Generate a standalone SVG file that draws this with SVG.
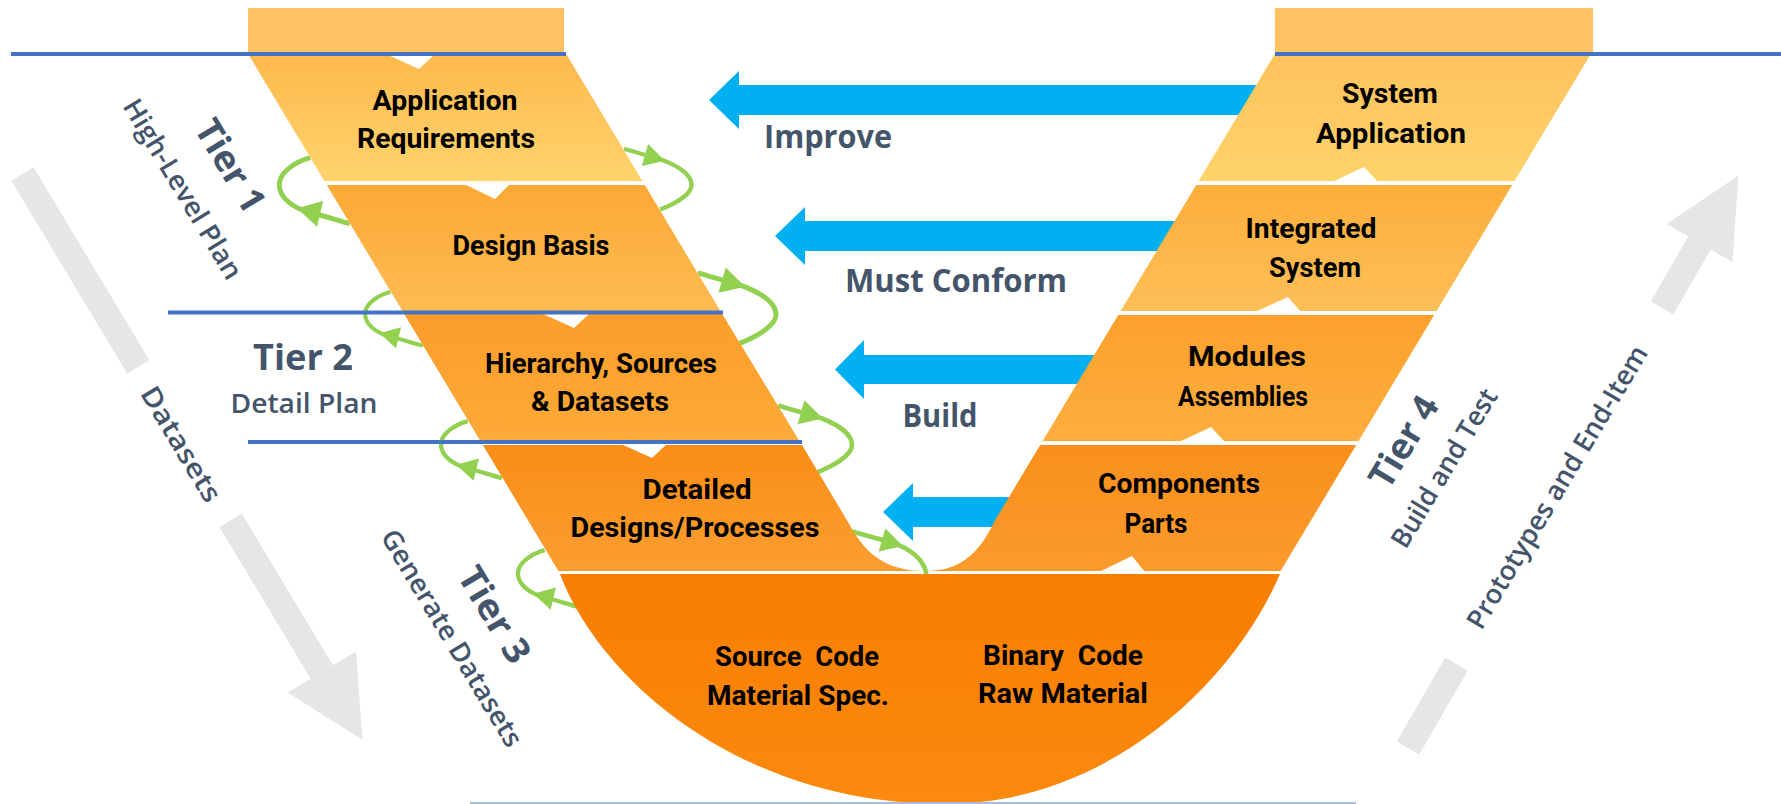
<svg xmlns="http://www.w3.org/2000/svg" width="1781" height="804" viewBox="0 0 1781 804">
<defs>
<style>
.box{font-family:Roboto,"Liberation Sans",sans-serif;font-weight:700;font-size:28px;fill:#000;text-anchor:middle}
.lbl{font-family:"Open Sans","Noto Sans",sans-serif;font-weight:600;fill:#44546A;text-anchor:middle}
.tier{font-size:36px;font-weight:700}
.sub{font-size:27px}
.act{font-size:32px;font-weight:700}
.hl{stroke:#4472C4;stroke-width:4;fill:none}
.loop{fill:none;stroke:#92D050;stroke-width:4.5}
.head{fill:#92D050}
.blue{fill:#00B0F0}
.grey{fill:#E7E6E6}
.notch{fill:#FFFFFF}
</style>
<linearGradient id="g1" x1="0" y1="0" x2="0" y2="1"><stop offset="0" stop-color="#FDB84C"/><stop offset="1" stop-color="#FFD46C"/></linearGradient>
<linearGradient id="g2" x1="0" y1="0" x2="0" y2="1"><stop offset="0" stop-color="#FCA935"/><stop offset="1" stop-color="#FDBC53"/></linearGradient>
<linearGradient id="g3" x1="0" y1="0" x2="0" y2="1"><stop offset="0" stop-color="#FC9D2A"/><stop offset="1" stop-color="#FDAA38"/></linearGradient>
<linearGradient id="g4" x1="0" y1="0" x2="0" y2="1"><stop offset="0" stop-color="#F98D16"/><stop offset="1" stop-color="#FB9E30"/></linearGradient>
<linearGradient id="g5" x1="0" y1="0" x2="0" y2="1"><stop offset="0" stop-color="#F77E00"/><stop offset="1" stop-color="#FB8A0F"/></linearGradient>
<linearGradient id="r1" x1="0" y1="0" x2="0" y2="1"><stop offset="0" stop-color="#FEC25C"/><stop offset="1" stop-color="#FFD36B"/></linearGradient>
<linearGradient id="r2" x1="0" y1="0" x2="0" y2="1"><stop offset="0" stop-color="#FCAE3B"/><stop offset="1" stop-color="#FDBF58"/></linearGradient>
<linearGradient id="r3" x1="0" y1="0" x2="0" y2="1"><stop offset="0" stop-color="#FCA02C"/><stop offset="1" stop-color="#FDAE3F"/></linearGradient>
<linearGradient id="r4" x1="0" y1="0" x2="0" y2="1"><stop offset="0" stop-color="#F98F1C"/><stop offset="1" stop-color="#FA9B2C"/></linearGradient>
<g id="loopL">
<path class="loop" d="M22,37 C8,33 -8,28 -20,25 C-36,19 -43,9 -42,0 C-41,-10 -28,-19 -14,-23"/>
<polygon class="head" points="-26,23 -2.2,16.3 -7.8,39.7"/>
</g>
<g id="loopR">
<path class="loop" d="M-21,-36 C-8,-32 8,-28 20,-24 C38,-17 50,-8 50,2 C50,12 32,22 17,28"/>
<polygon class="head" points="22,-23.5 -2.3,-18 4.3,-41"/>
</g>
</defs>
<rect width="1781" height="804" fill="#FFFFFF"/>

<g id="progress-arrows">
<g transform="translate(22.5,174) rotate(59)">
<rect class="grey" x="0" y="-13" width="225" height="26"/>
<polygon class="grey" points="404,-13 581,-13 581,-40 660,0 581,40 581,13 404,13"/>
</g>
<g transform="translate(1408,748) rotate(-60)">
<rect class="grey" x="0" y="-13" width="97" height="26"/>
<polygon class="grey" points="508,-13 583,-13 583,-38 661,0 583,38 583,13 508,13"/>
</g>
</g>

<g id="connectors">
<polygon class="blue" points="709,100 739,71 739,85 1275,85 1275,115 739,115 739,129"/>
<polygon class="blue" points="775,236 805,207 805,221 1195,221 1195,251 805,251 805,265"/>
<polygon class="blue" points="835,369.5 864,340 864,355 1110,355 1110,384 864,384 864,399"/>
<polygon class="blue" points="883,512 913,483 913,497 1030,497 1030,527 913,527 913,541"/>
<use href="#loopL" transform="translate(325.6,183) scale(1.1)"/>
<use href="#loopR" transform="translate(644,183) scale(0.95)"/>
<use href="#loopL" transform="translate(403,312.5) scale(0.9)"/>
<use href="#loopR" transform="translate(721,312.5) scale(1.1)"/>
<use href="#loopL" transform="translate(481,443) scale(0.95)"/>
<use href="#loopR" transform="translate(800,443) scale(1.04)"/>
<use href="#loopL" transform="translate(558,572) scale(0.95)"/>
<path class="loop" d="M850,531 L890,542 C910,548 926,560 927,578"/>
<polygon class="head" points="903,546 878.7,551.6 885.3,528.4"/>
</g>

<g id="top-left">
<rect x="248" y="8" width="316" height="44" fill="#FEC262"/>
</g>
<g id="top-right">
<rect x="1275" y="8" width="318" height="44" fill="#FEC262"/>
</g>

<g id="application-requirements">
<polygon points="247,52 565,52 642.4,181 324.4,181" fill="url(#g1)"/>
<polygon class="notch" points="388,55 434,55 419,69"/>
<text class="box" x="445" y="110" textLength="145" lengthAdjust="spacingAndGlyphs">Application</text>
<text class="box" x="446" y="148" textLength="178" lengthAdjust="spacingAndGlyphs">Requirements</text>
</g>

<g id="design-basis">
<polygon points="326.8,185 644.8,185 721,312 403,312" fill="url(#g2)"/>
<polygon class="notch" points="464,184 510,184 495,199"/>
<text class="box" x="531" y="255" textLength="157" lengthAdjust="spacingAndGlyphs">Design Basis</text>
</g>

<g id="hierarchy-sources-datasets">
<polygon points="404.2,314 722.2,314 800,442 481,442" fill="url(#g3)"/>
<polygon class="notch" points="543,314 589,314 574,328"/>
<text class="box" x="601" y="373" textLength="232" lengthAdjust="spacingAndGlyphs">Hierarchy, Sources</text>
<text class="box" x="600" y="411" textLength="138" lengthAdjust="spacingAndGlyphs">&amp; Datasets</text>
</g>

<g id="detailed-designs">
<path d="M482.8,445 L802,445 L848,522 C864,552 884,571 925,571 L558.4,571 Z" fill="url(#g4)"/>
<polygon class="notch" points="621,444 667,444 652,458"/>
<text class="box" x="697" y="499" textLength="109" lengthAdjust="spacingAndGlyphs">Detailed</text>
<text class="box" x="695" y="537" textLength="249" lengthAdjust="spacingAndGlyphs">Designs/Processes</text>
</g>

<g id="code-material">
<path d="M560,574 L1280,574 C1235,680 1110,804 945,804 C740,804 600,680 560,574 Z" fill="url(#g5)"/>
<text class="box" x="797" y="666" textLength="164" lengthAdjust="spacingAndGlyphs" xml:space="preserve">Source  Code</text>
<text class="box" x="798" y="705" textLength="182" lengthAdjust="spacingAndGlyphs">Material Spec.</text>
<text class="box" x="1063" y="665" textLength="160" lengthAdjust="spacingAndGlyphs" xml:space="preserve">Binary  Code</text>
<text class="box" x="1063" y="703" textLength="170" lengthAdjust="spacingAndGlyphs">Raw Material</text>
</g>

<g id="system-application">
<polygon points="1276,52 1592,52 1514.6,181 1198.6,181" fill="url(#r1)"/>
<polygon class="notch" points="1332,182 1378,182 1364,167"/>
<text class="box" x="1390" y="103" textLength="96" lengthAdjust="spacingAndGlyphs">System</text>
<text class="box" x="1391" y="143" textLength="150" lengthAdjust="spacingAndGlyphs">Application</text>
</g>

<g id="integrated-system">
<polygon points="1196.2,185 1512.2,185 1436.6,311 1120.6,311" fill="url(#r2)"/>
<polygon class="notch" points="1255,312 1301,312 1288,297"/>
<text class="box" x="1311" y="238" textLength="131" lengthAdjust="spacingAndGlyphs">Integrated</text>
<text class="box" x="1315" y="277" textLength="92" lengthAdjust="spacingAndGlyphs">System</text>
</g>

<g id="modules-assemblies">
<polygon points="1118.2,315 1434.2,315 1358.6,441 1042.6,441" fill="url(#r3)"/>
<polygon class="notch" points="1179,442 1225,442 1211,427"/>
<text class="box" x="1247" y="366" textLength="118" lengthAdjust="spacingAndGlyphs">Modules</text>
<text class="box" x="1243" y="406" textLength="130" lengthAdjust="spacingAndGlyphs">Assemblies</text>
</g>

<g id="components-parts">
<path d="M1040.2,445 L1356.2,445 L1280.6,571 L925,571 C958,571 978,556 994,522 Z" fill="url(#r4)"/>
<polygon class="notch" points="1099,572 1145,572 1132,556"/>
<text class="box" x="1179" y="493" textLength="162" lengthAdjust="spacingAndGlyphs">Components</text>
<text class="box" x="1156" y="533" textLength="63" lengthAdjust="spacingAndGlyphs">Parts</text>
</g>

<g id="tier-lines">
<line class="hl" x1="11" y1="54" x2="566" y2="54"/>
<line class="hl" x1="1275" y1="54" x2="1781" y2="54"/>
<line class="hl" x1="168" y1="312.5" x2="723" y2="312.5"/>
<line class="hl" x1="248" y1="442" x2="802" y2="442"/>
<line x1="470" y1="803" x2="1356" y2="803" stroke="#A9BCD9" stroke-width="2"/>
</g>

<g id="labels">
<text class="lbl tier" transform="translate(230,166) rotate(59)" y="12" textLength="102" lengthAdjust="spacingAndGlyphs">Tier 1</text>
<text class="lbl sub" transform="translate(183,189) rotate(59)" y="9.5" textLength="205" lengthAdjust="spacingAndGlyphs">High-Level Plan</text>
<text class="lbl sub" transform="translate(181,444) rotate(59)" y="9.5" textLength="130" lengthAdjust="spacingAndGlyphs">Datasets</text>
<text class="lbl tier" x="303" y="370" textLength="100" lengthAdjust="spacingAndGlyphs">Tier 2</text>
<text class="lbl sub" x="304" y="413" textLength="147" lengthAdjust="spacingAndGlyphs">Detail Plan</text>
<text class="lbl tier" transform="translate(494,615) rotate(59)" y="12" textLength="106" lengthAdjust="spacingAndGlyphs">Tier 3</text>
<text class="lbl sub" transform="translate(452,638) rotate(59)" y="9.5" textLength="248" lengthAdjust="spacingAndGlyphs">Generate Datasets</text>
<text class="lbl act" x="828" y="148" textLength="128" lengthAdjust="spacingAndGlyphs">Improve</text>
<text class="lbl act" x="956" y="292" textLength="222" lengthAdjust="spacingAndGlyphs">Must Conform</text>
<text class="lbl act" x="940" y="427" textLength="75" lengthAdjust="spacingAndGlyphs">Build</text>
<text class="lbl tier" transform="translate(1404,442) rotate(-59)" y="12" textLength="100" lengthAdjust="spacingAndGlyphs">Tier 4</text>
<text class="lbl sub" transform="translate(1444,468) rotate(-59)" y="9.5" textLength="180" lengthAdjust="spacingAndGlyphs">Build and Test</text>
<text class="lbl sub" transform="translate(1557,487) rotate(-59)" y="9.5" textLength="325" lengthAdjust="spacingAndGlyphs">Prototypes and End-Item</text>
</g>
</svg>
